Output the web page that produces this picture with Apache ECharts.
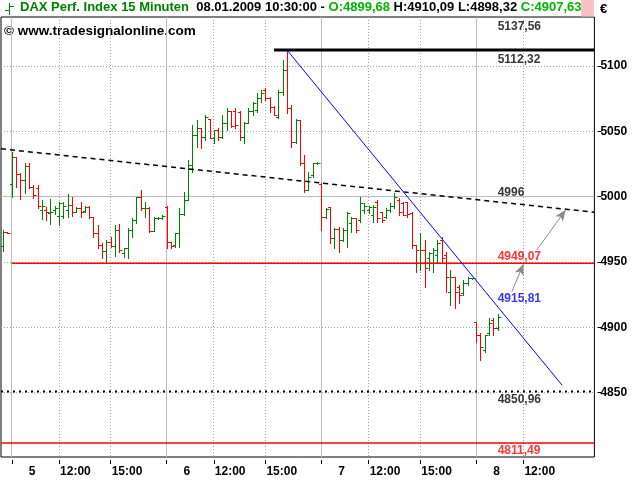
<!DOCTYPE html>
<html><head><meta charset="utf-8">
<script src="https://cdn.jsdelivr.net/npm/echarts@6/dist/echarts.min.js"></script>
<style>html,body{margin:0;padding:0;background:#fff}#c{width:640px;height:480px}</style>
</head><body><div id="c"></div>
<script>
// ---- OHLC data (15-minute bars, Jan 2 close .. Jan 8 10:30) ----
const opens = [
 4962.3,4972.7,
 5009.7,5030.6,5017.1,5012.8,5023.5,5007.6,5006.6,4989.8,4989.8,4987.7,4989.8,4985.2,4985.2,4989.8,4993.6,4988.5,4991.1,4989.3,4991.9,4984.2,4972.0,4963.0,4958.7,4965.5,4962.3,4974.5,4957.0,4960.5,4974.5,4982.2,4999.5,4991.1,4991.6,4974.0,4983.5,4983.6,
 4991.9,4965.3,4963.0,4972.2,4986.7,4997.5,5024.2,5047.2,5052.6,5045.4,5059.4,5044.9,5051.0,5045.7,5056.4,5065.8,5065.8,5065.0,5045.4,5056.2,5065.8,5066.3,5075.3,5081.6,5075.3,5068.9,5060.7,5080.3,5096.9,5067.6,5042.1,5058.7,5025.5,5005.1,5016.6,5025.8,
 5009.7,4984.7,4991.9,4968.2,4975.3,4966.9,4974.5,4979.9,4983.5,4982.2,4989.8,4989.8,4986.0,4995.9,4988.3,4984.7,4989.8,4992.9,4997.5,4995.2,4995.9,4987.5,4963.0,4949.0,4959.2,4952.8,4949.0,4955.4,4966.9,4955.4,4927.3,4938.8,4931.1,4926.1,4933.7,4937.5,
 4903.9,4894.2,4882.7,4895.5,4905.6,4899.68
];
const highs = [
 4974.5,4973.0,
 5034.4,5030.6,5018.3,5025.5,5025.5,5008.9,5008.9,4997.5,4992.3,4998.0,4992.9,4996.2,4996.2,5002.1,5000.0,4992.3,4996.2,4992.9,4992.9,4984.2,4978.3,4964.3,4966.9,4968.9,4978.3,4979.1,4960.5,4975.8,4983.5,5000.0,5005.1,4996.2,4992.3,4984.2,4984.2,4985.8,
 4992.9,4965.5,4972.4,4991.1,5003.8,5028.1,5054.8,5058.7,5052.6,5062.5,5059.4,5051.0,5052.6,5062.5,5067.6,5065.8,5067.6,5065.8,5057.4,5067.6,5072.7,5079.1,5081.6,5082.9,5076.5,5069.6,5081.6,5104.6,5112.32,5070.2,5059.2,5058.7,5031.9,5019.1,5026.0,5026.2,
 5010.2,4991.1,4991.9,4975.8,4977.0,4975.8,4988.5,4984.7,4983.5,5000.0,4994.9,4992.9,4993.6,4997.5,4988.5,4991.1,4994.9,5003.0,4998.8,4996.2,4996.2,4988.5,4963.0,4972.0,4966.9,4957.9,4960.5,4966.9,4969.4,4957.9,4943.9,4938.8,4932.4,4936.2,4938.8,4937.8,
 4904.3,4895.5,4894.2,4906.9,4906.9,4910.09
];
const lows = [
 4958.7,4972.2,
 5000.0,5007.6,4998.0,5003.0,5006.4,4998.8,4991.1,4982.7,4982.2,4978.9,4986.7,4978.3,4983.5,4984.2,4985.2,4988.5,4984.2,4988.5,4983.5,4968.9,4960.5,4952.8,4949.07,4961.7,4954.6,4957.9,4953.6,4952.8,4969.4,4980.1,4989.8,4984.2,4973.2,4973.5,4983.1,4982.9,
 4960.5,4960.5,4961.3,4961.3,4986.0,4997.5,5019.1,5038.2,5037.0,5043.4,5044.7,5040.8,5043.4,5045.0,5051.0,5053.1,5052.3,5043.4,5040.8,5056.2,5062.5,5065.0,5072.7,5074.0,5065.0,5062.5,5060.0,5077.8,5063.8,5038.2,5040.8,5024.2,5003.8,5005.1,5015.3,5025.4,
 4974.5,4983.5,4964.3,4960.5,4957.9,4966.3,4961.7,4973.2,4973.2,4980.9,4987.3,4987.3,4980.9,4980.9,4980.9,4983.5,4988.5,4991.1,4986.0,4986.0,4984.7,4960.7,4942.6,4943.9,4931.1,4943.9,4942.6,4949.0,4949.0,4927.3,4917.1,4914.6,4918.4,4924.8,4932.4,4937.2,
 4889.0,4875.0,4881.4,4894.2,4894.2,4898.32
];
const closes = [
 4972.7,4972.6,
 5030.6,5017.1,5012.8,5023.5,5007.6,5001.3,4992.9,4992.9,4988.5,4988.5,4991.1,4995.4,4992.9,4993.6,4988.5,4991.1,4988.5,4991.9,4984.2,4972.0,4963.0,4958.7,4965.5,4962.3,4974.5,4959.2,4960.5,4974.5,4982.2,4999.5,4991.1,4991.6,4974.0,4983.5,4983.6,4985.2,
 4965.3,4962.3,4972.2,4986.7,4997.5,5024.2,5047.2,5052.6,5045.4,5061.0,5044.9,5051.0,5045.7,5056.4,5065.8,5054.1,5054.8,5045.4,5056.2,5065.8,5071.5,5075.3,5079.1,5075.3,5068.9,5062.5,5080.3,5096.9,5067.6,5042.1,5058.7,5025.5,5005.1,5015.3,5026.0,5026.0,
 4984.7,4990.5,4968.2,4975.3,4966.9,4974.5,4987.3,4983.7,4974.5,4994.9,4992.9,4992.1,4992.1,4983.7,4982.2,4989.8,4992.9,5000.0,4988.3,4986.0,4986.7,4963.0,4959.2,4959.2,4945.2,4956.7,4959.2,4964.6,4953.1,4938.8,4938.8,4927.3,4924.8,4933.7,4937.5,4937.6,
 4894.2,4885.2,4894.2,4903.1,4899.3,4907.63
];

// ---- axes ----
const xMin = -0.5, xMax = 137.5;              // bar slots (incl. empty future slots on Jan 8)
const dayTickIdx = [2, 38, 74, 110];
const dayTickLabels = ['5', '6', '7', '8'];
const hourTickIdx = [13, 25, 49, 61, 85, 97, 121];
const hourTickLabels = ['12:00', '15:00', '12:00', '15:00', '12:00', '15:00', '12:00'];
const yMin = 4800.8, yMax = 5137.56;
const yTicks = [4850, 4900, 4950, 5000, 5050, 5100];
const ySolidGrid = [5000];

// ---- drawn lines ----
const resistBlack = [[63, 5112.32], [137.5, 5112.32]];
const supportRed = [[2, 4949.07], [137.5, 4949.07]];
const supportDotted = [[-0.5, 4850.96], [137.5, 4850.96]];
const supportRed2 = [[-0.5, 4811.49], [137.5, 4811.49]];
const trendDashed = [[-0.5, 5036.7], [137.5, 4988.1]];
const trendBlue = [[66, 5112.32], [130, 4855.7]];
const arrowA = [[118.3, 4927.3], [121.0, 4948.5]];
const arrowB = [[124.1, 4959.2], [130.8, 4989.8]];

// ---- level labels (at the last bar) ----
const labelBar = 115;
const levelValues = [5137.56, 5112.32, 4996, 4949.07, 4915.81, 4850.96, 4811.49];
const levelTexts = ['5137,56', '5112,32', '4996', '4949,07', '4915,81', '4850,96', '4811,49'];

const FONT = '"Liberation Sans", Arial, sans-serif';
const levelColors = ['#000', '#000', '#000', '#ff0000', '#0000ff', '#000', '#ff0000'];
const levelDy = [10, 10, -9, -7, -8, 8, 8];

const tickIdx = dayTickIdx.concat(hourTickIdx).sort((a, b) => a - b);
const tickText = {};
dayTickIdx.forEach((v, i) => tickText[v] = '{d|' + dayTickLabels[i] + '}');
hourTickIdx.forEach((v, i) => tickText[v] = '{h|' + hourTickLabels[i] + '}');

const ohlc = opens.map((o, i) => [i, o, highs[i], lows[i], closes[i]]);

const chart = echarts.init(document.getElementById('c'), null, {renderer: 'canvas'});

function lineSeries(data, style, z) {
  return {type: 'line', data: data, symbol: 'none', silent: true, animation: false,
          lineStyle: style, z: z || 5};
}
// crisp grid lines (pixel-snapped) drawn through the axes' own scales
function gridLines(vertical, vals, stroke, dash) {
  return {type: 'custom', z: 2, silent: true, animation: false,
    data: vals.map(v => vertical ? [v, yMin] : [xMin, v]), encode: {x: 0, y: 1},
    renderItem: function (p, api) {
      let a, b;
      if (vertical) {
        a = api.coord([api.value(0), yMax]); b = api.coord([api.value(0), yMin]);
        const x = Math.floor(a[0]) + 0.5;
        return {type: 'line', shape: {x1: x, y1: a[1], x2: x, y2: b[1]}, style: {stroke: stroke, lineWidth: 1, lineDash: dash, fill: null}};
      }
      a = api.coord([xMin, api.value(1)]); b = api.coord([xMax, api.value(1)]);
      const y = Math.floor(a[1]) + 0.5;
      return {type: 'line', shape: {x1: a[0], y1: y, x2: b[0], y2: y}, style: {stroke: stroke, lineWidth: 1, lineDash: dash, fill: null}};
    }};
}

const option = {
  animation: false,
  backgroundColor: '#fff',
  textStyle: {fontFamily: FONT, fontWeight: 'bold'},
  grid: {show: true, left: 1, top: 17, width: 593.4, height: 440, borderColor: '#000', borderWidth: 1, backgroundColor: 'transparent'},
  xAxis: {
    type: 'value', min: xMin, max: xMax, offset: 3, position: 'bottom',
    axisLine: {show: false, onZero: false},
    axisTick: {show: true, customValues: tickIdx, length: 4, lineStyle: {color: '#000', width: 1}},
    axisLabel: {
      customValues: tickIdx, align: 'left', margin: 6, color: '#000', fontSize: 12, fontFamily: FONT, fontWeight: 'bold',
      formatter: v => tickText[v] || '',
      rich: {
        d: {padding: [0, 0, 0, 17], fontSize: 12, fontFamily: FONT, fontWeight: 'bold', color: '#000'},
        h: {padding: [0, 0, 0, 1], fontSize: 12, fontFamily: FONT, fontWeight: 'bold', color: '#000'}
      }
    },
    splitLine: {show: false}
  },
  yAxis: {
    type: 'value', position: 'right', min: yMin, max: yMax, offset: 3,
    axisLine: {show: false, onZero: false},
    axisTick: {show: true, customValues: yTicks, length: 4, lineStyle: {color: '#000', width: 1}},
    axisLabel: {customValues: yTicks, margin: 3, color: '#000', fontSize: 12, fontFamily: FONT, fontWeight: 'bold', formatter: v => String(v)},
    splitLine: {show: false}
  },
  series: [
    gridLines(true, dayTickIdx, '#bcbcbc', null),
    gridLines(true, hourTickIdx, '#a0a0a0', [1, 2]),
    gridLines(false, yTicks.filter(v => ySolidGrid.indexOf(v) < 0), '#a0a0a0', [1, 2]),
    gridLines(false, ySolidGrid, '#bcbcbc', null),
    {type: 'custom', z: 3, silent: true, data: ohlc,
     encode: {x: 0, y: [1, 2, 3, 4]},
     renderItem: function (params, api) {
       const i = api.value(0), o = api.value(1), h = api.value(2), l = api.value(3), c = api.value(4);
       const ph = api.coord([i, h]), pl = api.coord([i, l]), po = api.coord([i, o]), pc = api.coord([i, c]);
       const x = Math.round(ph[0]) + 0.5;
       const col = c >= o ? '#008000' : '#ff0000';
       const yo = Math.round(po[1]) + 0.5, yc = Math.round(pc[1]) + 0.5;
       const st = {stroke: col, lineWidth: 1};
       return {type: 'group', children: [
         {type: 'line', shape: {x1: x, y1: Math.round(ph[1]), x2: x, y2: Math.round(pl[1]) + 1}, style: st},
         {type: 'line', shape: {x1: x - 2.5, y1: yo, x2: x, y2: yo}, style: st},
         {type: 'line', shape: {x1: x, y1: yc, x2: x + 3, y2: yc}, style: st}
       ]};
     }},
    lineSeries(trendDashed, {color: '#000', width: 1.5, type: [5, 4]}, 4),
    lineSeries(supportRed, {color: '#ff0000', width: 1.6}, 5),
    lineSeries(supportRed2, {color: '#ff0000', width: 1.4}, 5),
    lineSeries(supportDotted, {color: '#000', width: 2, type: [2, 4]}, 5),
    lineSeries(resistBlack, {color: '#000', width: 3}, 5),
    lineSeries(trendBlue, {color: '#0000ff', width: 1}, 6),
    {type: 'line', data: [], silent: true, z: 6,
     markLine: {silent: true, animation: false, symbol: ['none', 'arrow'], symbolSize: [7, 11],
       label: {show: false}, emphasis: {disabled: true},
       lineStyle: {color: '#8a8a8a', width: 1, type: 'solid'},
       data: [[{coord: arrowA[0]}, {coord: arrowA[1]}], [{coord: arrowB[0]}, {coord: arrowB[1]}]]}},
    {type: 'scatter', symbolSize: 0, silent: true, z: 7,
     data: levelValues.map((v, i) => ({
       value: [labelBar, v],
       label: {show: true, position: 'right', distance: 0, offset: [0, levelDy[i]], formatter: levelTexts[i],
               color: levelColors[i], fontSize: 12, fontFamily: FONT, fontWeight: 'bold'}
     }))}
  ],
  graphic: [
    {type: 'rect', shape: {x: 581, y: 0, width: 13, height: 16.5}, style: {fill: '#f7c3c6'}, silent: true},
    {type: 'line', shape: {x1: 9.5, y1: 3, x2: 9.5, y2: 15}, style: {stroke: '#008000', lineWidth: 1}},
    {type: 'line', shape: {x1: 5, y1: 10.5, x2: 9.5, y2: 10.5}, style: {stroke: '#008000', lineWidth: 1}},
    {type: 'line', shape: {x1: 9.5, y1: 6.5, x2: 14, y2: 6.5}, style: {stroke: '#008000', lineWidth: 1}},
    {type: 'text', x: 20, y: 1, silent: true, style: {
      text: '{g|DAX Perf. Index 15 Minuten}{k|  08.01.2009 10:30:00 - }{l|O:4899,68}{k| H:4910,09 L:4898,32 }{l|C:4907,63}',
      font: 'bold 13px ' + FONT,
      rich: {
        g: {fill: '#008000', font: 'bold 13px ' + FONT},
        k: {fill: '#000', font: 'bold 13px ' + FONT},
        l: {fill: '#00b400', font: 'bold 13px ' + FONT}
      }}},
    {type: 'text', x: 4, y: 24, silent: true, style: {text: '\u00a9 www.tradesignalonline.com', fill: '#000', font: 'bold 13.5px ' + FONT}},
    {type: 'text', x: 600, y: 3, silent: true, style: {text: '\u20ac', fill: '#000', font: 'bold 13px ' + FONT}}
  ]
};
chart.setOption(option);
</script>
</body></html>
